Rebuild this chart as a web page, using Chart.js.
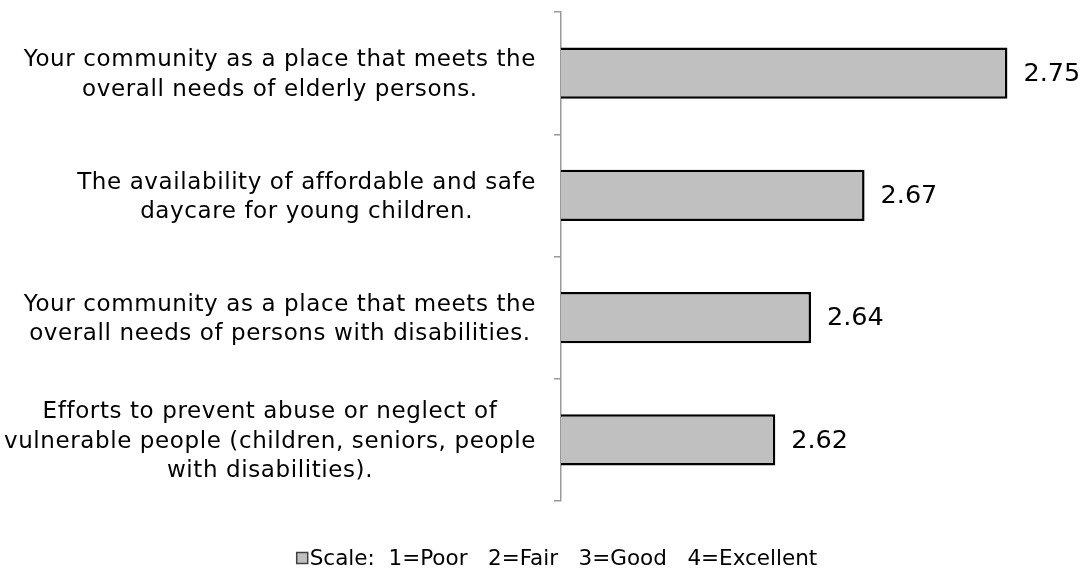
<!DOCTYPE html>
<html>
<head>
<meta charset="utf-8">
<script src="https://cdn.jsdelivr.net/npm/chart.js@4"></script>
<style>
  html, body { margin: 0; padding: 0; background: #fff; }
  #wrap { width: 1086px; height: 572px; position: relative; }
</style>
</head>
<body>
<div id="wrap"><canvas id="chart"></canvas></div>
<script>
// Survey items, one bar each (multi-line labels)
const categories = [
  ['Your community as a place that meets the', 'overall needs of elderly persons.'],
  ['The availability of affordable and safe', 'daycare for young children.'],
  ['Your community as a place that meets the', 'overall needs of persons with disabilities.'],
  ['Efforts to prevent abuse or neglect of', 'vulnerable people (children, seniors, people', 'with disabilities).']
];
const scores = [2.75, 2.67, 2.64, 2.62];
const legendText = 'Scale:  1=Poor   2=Fair   3=Good   4=Excellent';
const xMin = 2.5;
const xMax = 2.78;

const FONT = '"DejaVu Sans", Verdana, sans-serif';

// Wrapped category labels, each line centred inside its own block
const categoryLabels = {
  id: 'categoryLabels',
  afterDraw(chart) {
    const { ctx, chartArea } = chart;
    const yScale = chart.scales.y;
    const lineHeight = 29.5;
    ctx.save();
    ctx.font = '23px ' + FONT;
    ctx.letterSpacing = '0.6px';
    ctx.fillStyle = '#000';
    ctx.textAlign = 'center';
    ctx.textBaseline = 'middle';
    categories.forEach((lines, i) => {
      const widest = Math.max(...lines.map(l => ctx.measureText(l).width));
      const cx = chartArea.left - 25 - widest / 2;
      const cy = yScale.getPixelForValue(i) + 2;
      lines.forEach((line, j) => {
        ctx.fillText(line, cx, cy + (j - (lines.length - 1) / 2) * lineHeight);
      });
    });
    ctx.restore();
  }
};

// Score printed to the right of each bar
const valueLabels = {
  id: 'valueLabels',
  afterDatasetsDraw(chart) {
    const { ctx } = chart;
    const meta = chart.getDatasetMeta(0);
    ctx.save();
    ctx.font = '25.5px ' + FONT;
    ctx.fillStyle = '#000';
    ctx.textAlign = 'left';
    ctx.textBaseline = 'middle';
    meta.data.forEach((bar, i) => {
      ctx.fillText(scores[i].toFixed(2), bar.x + 16, bar.y + 1);
    });
    ctx.restore();
  }
};

// Single-entry legend under the plot
const scaleLegend = {
  id: 'scaleLegend',
  afterDraw(chart) {
    const { ctx, width, height } = chart;
    const ds = chart.data.datasets[0];
    ctx.save();
    ctx.font = '21.5px ' + FONT;
    const box = 11;
    const textW = ctx.measureText(ds.label).width;
    const total = box + 2 + textW;
    const x0 = width / 2 + 14 - total / 2;
    const y = height - 13;
    ctx.fillStyle = ds.backgroundColor;
    ctx.strokeStyle = '#404040';
    ctx.lineWidth = 1.5;
    ctx.fillRect(x0, y - box / 2 - 1, box, box);
    ctx.strokeRect(x0, y - box / 2 - 1, box, box);
    ctx.fillStyle = '#000';
    ctx.textAlign = 'left';
    ctx.textBaseline = 'middle';
    ctx.fillText(ds.label, x0 + box + 2, y);
    ctx.restore();
  }
};

new Chart(document.getElementById('chart'), {
  type: 'bar',
  data: {
    labels: categories,
    datasets: [{
      label: legendText,
      data: scores,
      backgroundColor: '#c0c0c0',
      borderColor: '#000000',
      borderWidth: 2.5,
      borderSkipped: false,
      barPercentage: 0.42,
      categoryPercentage: 1
    }]
  },
  options: {
    indexAxis: 'y',
    responsive: true,
    maintainAspectRatio: false,
    animation: false,
    layout: { padding: { top: 12, right: 25, bottom: 71, left: 0 } },
    plugins: {
      legend: { display: false },
      tooltip: { enabled: false }
    },
    scales: {
      x: { display: false, min: xMin, max: xMax },
      y: {
        grid: {
          display: true,
          drawOnChartArea: false,
          drawTicks: true,
          tickLength: 7,
          offset: true,
          color: '#999999',
          lineWidth: 1.5
        },
        border: { display: true, color: '#999999', width: 1.5 },
        ticks: { display: false },
        afterFit: (s) => { s.width = 561; }
      }
    }
  },
  plugins: [categoryLabels, valueLabels, scaleLegend]
});
</script>
</body>
</html>
